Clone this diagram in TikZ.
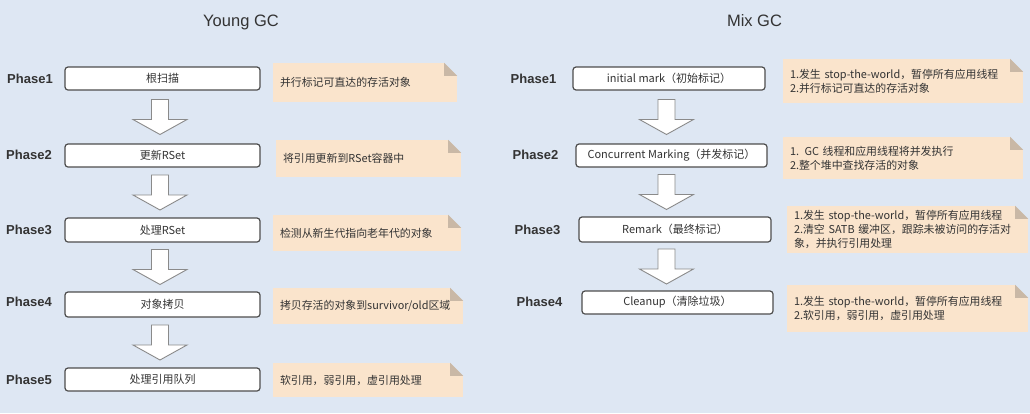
\documentclass[tikz,border=0pt]{standalone}
\usepackage{fontspec}
\setmainfont{Noto Sans CJK SC}
\newfontfamily\latinsans{Liberation Sans}
\usetikzlibrary{calc}
\definecolor{bgcol}{HTML}{DEE7F3}
\definecolor{notecol}{HTML}{FAE4CC}
\definecolor{foldcol}{HTML}{C9B8A6}
\definecolor{boxborder}{HTML}{4D4D4D}
\definecolor{arrborder}{HTML}{8A8A8A}
\definecolor{txtcol}{HTML}{333333}
\newcommand\notefold[1]{%
  \fill[bgcol] (#1.north east) -- ++(-13,0) -- ++(13,13) -- cycle;
  \fill[foldcol] ($(#1.north east)+(-13,0)$) -- ++(0,13) -- ++(13,0) -- cycle;}
\newcommand\blockarrow[3]{%
  \draw[blockarr] let \p1=(#1.south), \p2=($(#2.south)!0.5!(#3.north)$) in
    (\x1-11pt,\y2+17.5pt) -- (\x1+6pt,\y2+17.5pt) -- (\x1+6pt,\y2-2.5pt)
    -- (\x1+24.5pt,\y2-2.5pt) -- (\x1-2.5pt,\y2-17.5pt) -- (\x1-29.5pt,\y2-2.5pt)
    -- (\x1-11pt,\y2-2.5pt) -- cycle;}
\begin{document}
\begin{tikzpicture}[x=1pt,y=-1pt,
  title/.style={font=\latinsans\fontsize{16.5}{18}\selectfont, text=txtcol},
  phase/.style={font=\latinsans\fontsize{13}{15}\selectfont\bfseries, text=txtcol},
  stepbox/.style={draw=boxborder, line width=1.2pt, fill=white, rounded corners=3pt,
    inner sep=0pt, font=\fontsize{11}{13}\selectfont, text=txtcol},
  note/.style={fill=notecol, inner xsep=7pt, inner ysep=0pt, align=left,
    font=\fontsize{10.9}{14}\selectfont, text=txtcol},
  blockarr/.style={draw=arrborder, line width=0.9pt, fill=white, line join=miter}]
\fill[bgcol] (0,0) rectangle (1030,413);
\useasboundingbox (0,0) rectangle (1030,413);

% ---------- Young GC ----------
\node[title] (tY) at (241,22) {Young GC};
\node[phase] (pY1) at (30,79) {Phase1};
\node[phase] (pY2) at (29,155) {Phase2};
\node[phase] (pY3) at (29,230) {Phase3};
\node[phase] (pY4) at (29,302) {Phase4};
\node[phase] (pY5) at (29,380) {Phase5};

\node[stepbox, minimum width=195pt, minimum height=23pt] (bY1) at (162.5,78.5) {根扫描};
\node[stepbox, minimum width=195pt, minimum height=23pt] (bY2) at (162.5,155.5) {更新RSet};
\node[stepbox, minimum width=195pt, minimum height=24pt] (bY3) at (162.5,230) {处理RSet};
\node[stepbox, minimum width=195pt, minimum height=25pt] (bY4) at (162.5,304.5) {对象拷贝};
\node[stepbox, minimum width=195pt, minimum height=23pt] (bY5) at (162.5,379.5) {处理引用队列};

\node[note, text width=170pt, minimum height=39pt] (nY1) at (365,82.5) {\mbox{并行标记可直达的存活对象}};
\notefold{nY1}
\node[note, text width=171pt, minimum height=37pt] (nY2) at (368.5,158.5) {\mbox{将引用更新到RSet容器中}};
\notefold{nY2}
\node[note, text width=174pt, minimum height=36pt] (nY3) at (367,233) {\mbox{检测从新生代指向老年代的对象}};
\notefold{nY3}
\node[note, text width=176pt, minimum height=36pt] (nY4) at (368,306) {\mbox{拷贝存活的对象到survivor/old区域}};
\notefold{nY4}
\node[note, text width=176pt, minimum height=34pt] (nY5) at (368,380) {\mbox{软引用，弱引用，虚引用处理}};
\notefold{nY5}

\blockarrow{bY1}{bY1}{bY2}
\blockarrow{bY1}{bY2}{bY3}
\blockarrow{bY1}{bY3}{bY4}
\blockarrow{bY1}{bY4}{bY5}

% ---------- Mix GC ----------
\node[title] (tM) at (754.5,21) {Mix GC};
\node[phase] (pM1) at (533.5,79) {Phase1};
\node[phase] (pM2) at (535.5,155) {Phase2};
\node[phase] (pM3) at (537.5,230) {Phase3};
\node[phase] (pM4) at (539.5,302) {Phase4};

\node[stepbox, minimum width=192pt, minimum height=23pt] (bM1) at (669,78.5) {initial mark（初始标记）};
\node[stepbox, minimum width=191pt, minimum height=23pt] (bM2) at (671.5,155.5) {Concurrent Marking（并发标记）};
\node[stepbox, minimum width=192pt, minimum height=25pt] (bM3) at (675,229.5) {Remark（最终标记）};
\node[stepbox, minimum width=191pt, minimum height=23pt] (bM4) at (677.5,302.5) {Cleanup（清除垃圾）};

\node[note, text width=226pt, minimum height=44pt] (nM1) at (903,81)
  {\mbox{1.发生 stop-the-world，暂停所有应用线程}\\\mbox{2.并行标记可直达的存活对象}};
\notefold{nM1}
\node[note, text width=226pt, minimum height=42pt] (nM2) at (903,158)
  {\mbox{1. GC 线程和应用线程将并发执行}\\\mbox{2.整个堆中查找存活的对象}};
\notefold{nM2}
\node[note, text width=227pt, minimum height=47pt] (nM3) at (907.5,229.5)
  {\mbox{1.发生 stop-the-world，暂停所有应用线程}\\\mbox{2.清空 SATB 缓冲区，跟踪未被访问的存活对}\\\mbox{象，并执行引用处理}};
\notefold{nM3}
\node[note, text width=227pt, minimum height=47pt] (nM4) at (907.5,308.5)
  {\mbox{1.发生 stop-the-world，暂停所有应用线程}\\\mbox{2.软引用，弱引用，虚引用处理}};
\notefold{nM4}

\blockarrow{bM1}{bM1}{bM2}
\blockarrow{bM1}{bM2}{bM3}
\blockarrow{bM1}{bM3}{bM4}
\end{tikzpicture}
\end{document}
